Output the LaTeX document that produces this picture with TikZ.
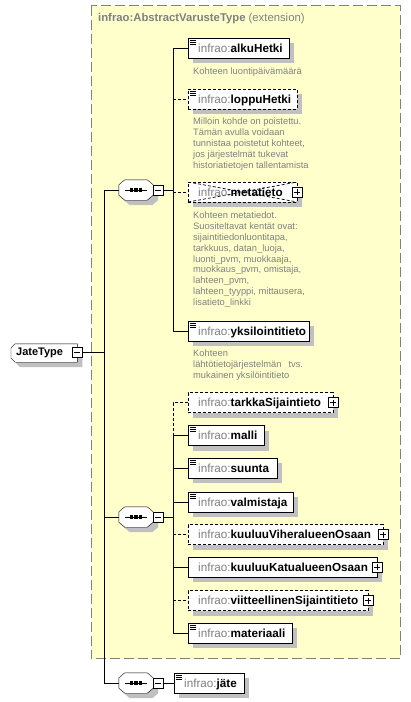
\documentclass[tikz,border=0pt]{standalone}
\usepackage{fontspec}
\setmainfont{Liberation Sans}
\usetikzlibrary{shadows}
\pgfdeclarelayer{bg}
\pgfdeclarelayer{mid}
\pgfsetlayers{bg,mid,main}
\definecolor{bgyellow}{RGB}{255,255,204}
\definecolor{shadowgray}{RGB}{192,192,192}
\definecolor{txtgray}{RGB}{128,128,128}
\definecolor{framegray}{RGB}{128,128,128}
\newcommand\pfx{\textcolor{txtgray}{infrao:}}
\newcommand\simpleicon[1]{\foreach \k in {0,1,2}{\draw[line width=0.7pt] ([xshift=2pt,yshift={-2.5pt-2pt*\k}]#1.north west) -- ++(6pt,0pt);}}
\newcommand\octpath[1]{([xshift=6pt]#1.north west) -- ([xshift=-6pt]#1.north east) -- ([yshift=-5pt]#1.north east) -- ([yshift=5pt]#1.south east) -- ([xshift=-6pt]#1.south east) -- ([xshift=6pt]#1.south west) -- ([yshift=5pt]#1.south west) -- ([yshift=-5pt]#1.north west) -- cycle}
\newcommand\seqcomp[1]{%
  \fill[shadowgray,transform canvas={shift={(5pt,-5pt)}}] ([xshift=6pt]#1.north west) -- ([xshift=-6pt]#1.north east) -- ([yshift=-5pt]#1.north east) -- ([yshift=5pt]#1.south east) -- ([xshift=-6pt]#1.south east) -- ([xshift=6pt]#1.south west) -- ([yshift=5pt]#1.south west) -- ([yshift=-5pt]#1.north west) -- cycle;
  \filldraw[fill=white] ([xshift=6pt]#1.north west) -- ([xshift=-6pt]#1.north east) -- ([yshift=-5pt]#1.north east) -- ([yshift=5pt]#1.south east) -- ([xshift=-6pt]#1.south east) -- ([xshift=6pt]#1.south west) -- ([yshift=5pt]#1.south west) -- ([yshift=-5pt]#1.north west) -- cycle;
  \draw ([xshift=-11pt]#1.center) -- ([xshift=11pt]#1.center);
  \foreach \k in {-4.5,0,4.5}{\fill ([xshift=\k*1pt]#1.center) +(-1.6pt,-1.6pt) rectangle +(1.6pt,1.6pt);}%
}
\begin{document}
\begin{tikzpicture}[x=1pt,y=-1pt,line width=1pt,
  elem/.style={draw, fill=white, anchor=west,
    general shadow={fill=shadowgray, shadow xshift=5pt, shadow yshift=-5pt},
    minimum height=20pt, inner xsep=10pt, inner ysep=0pt, align=left,
    text height=10.5pt, text depth=2pt, font=\fontsize{11.7}{13}\selectfont},
  opt/.style={elem, dash pattern=on 3pt off 2pt},
  optconn/.style={dash pattern=on 3pt off 2pt},
  desc/.style={anchor=north west, inner sep=0pt, align=left, text=txtgray,
    font=\fontsize{9.35}{10.9}\selectfont},
  seqbox/.style={minimum width=34pt, minimum height=20pt, inner sep=0pt},
  minusbox/.style={draw, fill=white, minimum size=10pt, inner sep=0pt, line width=0.8pt,
    path picture={\draw[line width=0.8pt] ([xshift=2pt]path picture bounding box.west) -- ([xshift=-2pt]path picture bounding box.east);}},
  plusbox/.style={draw, fill=white, minimum size=10pt, inner sep=0pt, line width=0.8pt,
    path picture={\draw[line width=0.8pt] ([xshift=2pt]path picture bounding box.west) -- ([xshift=-2pt]path picture bounding box.east)
      ([yshift=2pt]path picture bounding box.south) -- ([yshift=-2pt]path picture bounding box.north);}},
  xcross/.style={path picture={\draw[line width=0.7pt] (path picture bounding box.north west) -- (path picture bounding box.south east)
      (path picture bounding box.south west) -- (path picture bounding box.north east);}}
]
\useasboundingbox (0,0) rectangle (411,702);
\begin{pgfonlayer}{bg}
\fill[white] (0,0) rectangle (411,702);
\draw[fill=bgyellow, draw=framegray, line width=1pt, dash pattern=on 10pt off 4pt] (91,5.5) rectangle (400,658.5);
\end{pgfonlayer}

% title
\node[anchor=west, inner sep=0pt, text=txtgray, font=\fontsize{11.3}{13}\selectfont] (title) at (98,19) {\textbf{infrao:AbstractVarusteType} (extension)};

% root
\node[anchor=west, minimum height=18pt, inner xsep=5pt, inner ysep=0pt, text width=56pt, align=left,
  font=\fontsize{11}{13}\selectfont\bfseries] (jt) at (11,353) {JateType};
\begin{pgfonlayer}{mid}
\fill[shadowgray, transform canvas={shift={(5pt,-5pt)}}] ([xshift=4pt]jt.north west) -- (jt.north east) -- (jt.south east) -- ([xshift=4pt]jt.south west) -- ([yshift=4pt]jt.south west) -- ([yshift=-4pt]jt.north west) -- cycle;
\filldraw[fill=white] ([xshift=4pt]jt.north west) -- (jt.north east) -- (jt.south east) -- ([xshift=4pt]jt.south west) -- ([yshift=4pt]jt.south west) -- ([yshift=-4pt]jt.north west) -- cycle;
\end{pgfonlayer}
\node[minusbox] (jtm) at (77,352.5) {};

% compositors
\node[seqbox] (s1) at (136,190) {};
\node[seqbox] (s2) at (136,517) {};
\node[seqbox] (s3) at (136,683) {};

% first group elements
\node[elem, text width=81pt] (alku) at (188,48) {\pfx\textbf{alkuHetki}};
\simpleicon{alku}
\node[desc] (alkud) at (193,67.5) {Kohteen luontipäivämäärä};

\node[opt, text width=89pt] (loppu) at (188,99) {\pfx\textbf{loppuHetki}};
\simpleicon{loppu}
\node[desc] (loppud) at (193,117.5) {Milloin kohde on poistettu.\\Tämän avulla voidaan\\tunnistaa poistetut kohteet,\\jos järjestelmät tukevat\\historiatietojen tallentamista};

\node[opt, xcross, text width=89pt] (meta) at (188,192) {\pfx\textbf{metatieto}};
\node[plusbox] (metap) at (meta.east) {};
\node[desc] (metad) at (193,211.5) {Kohteen metatiedot.\\Suositeltavat kentät ovat:\\sijaintitiedonluontitapa,\\tarkkuus, datan\_luoja,\\luonti\_pvm, muokkaaja,\\muokkaus\_pvm, omistaja,\\lahteen\_pvm,\\lahteen\_tyyppi, mittausera,\\lisatieto\_linkki};

\node[elem, text width=101pt] (yksi) at (188,331) {\pfx\textbf{yksilointitieto}};
\simpleicon{yksi}
\node[desc] (yksid) at (193,349.5) {Kohteen\\lähtötietojärjestelmän\hspace{7pt}tvs.\\mukainen yksilöintitieto};

% second group elements
\node[opt, text width=125pt] (tarkka) at (188,402.5) {\pfx\textbf{tarkkaSijaintieto}};
\node[plusbox] (tarkkap) at (tarkka.east) {};
\node[elem, text width=56pt] (malli) at (188,435.5) {\pfx\textbf{malli}};
\simpleicon{malli}
\node[elem, text width=69pt] (suunta) at (188,468) {\pfx\textbf{suunta}};
\simpleicon{suunta}
\node[elem, text width=85pt] (valm) at (188,502) {\pfx\textbf{valmistaja}};
\simpleicon{valm}
\node[opt, text width=175pt] (vih) at (188,534.5) {\pfx\textbf{kuuluuViheralueenOsaan}};
\node[plusbox] (vihp) at (vih.east) {};
\node[elem, text width=169pt] (katu) at (188,567) {\pfx\textbf{kuuluuKatualueenOsaan}};
\node[plusbox] (katup) at (katu.east) {};
\node[opt, text width=160pt] (viit) at (188,600.5) {\pfx\textbf{viitteellinenSijaintitieto}};
\node[plusbox] (viitp) at (viit.east) {};
\node[elem, text width=84pt] (mat) at (188,633) {\pfx\textbf{materiaali}};
\simpleicon{mat}

% third group
\node[elem, text width=50pt] (jate) at (174,683) {\pfx\textbf{jäte}};
\simpleicon{jate}

% trunk coordinates
\coordinate (t1) at (104,0);
\coordinate (t2) at (173,0);

% connectors from root
\draw (jtm.east) -- (jtm.east -| t1);
\draw (s1.west) -- (s1.west -| t1) -- (s3.west -| t1) -- (s3.west);
\draw (s2.west -| t1) -- (s2.west);

% compositor shapes
\seqcomp{s1}
\seqcomp{s2}
\seqcomp{s3}
\node[minusbox] (s1m) at (158,190) {};
\node[minusbox] (s2m) at (158,517) {};
\node[minusbox] (s3m) at (158,683) {};

% group 1 connectors
\draw (s1m.east) -- (s1m.east -| t2);
\draw (alku.west) -- (alku.west -| t2) -- (yksi.west -| t2) -- (yksi.west);
\draw[optconn] (loppu.west -| t2) -- (loppu.west);
\draw[optconn] (meta.west -| t2) -- (meta.west);

% group 2 connectors
\draw (s2m.east) -- (s2m.east -| t2);
\draw[optconn] (tarkka.west) -- (tarkka.west -| t2) -- (malli.west -| t2);
\draw (malli.west) -- (malli.west -| t2) -- (mat.west -| t2) -- (mat.west);
\draw (suunta.west -| t2) -- (suunta.west);
\draw (valm.west -| t2) -- (valm.west);
\draw[optconn] (vih.west -| t2) -- (vih.west);
\draw (katu.west -| t2) -- (katu.west);
\draw[optconn] (viit.west -| t2) -- (viit.west);

% group 3 connector
\draw (s3m.east) -- (jate.west);
\end{tikzpicture}
\end{document}
